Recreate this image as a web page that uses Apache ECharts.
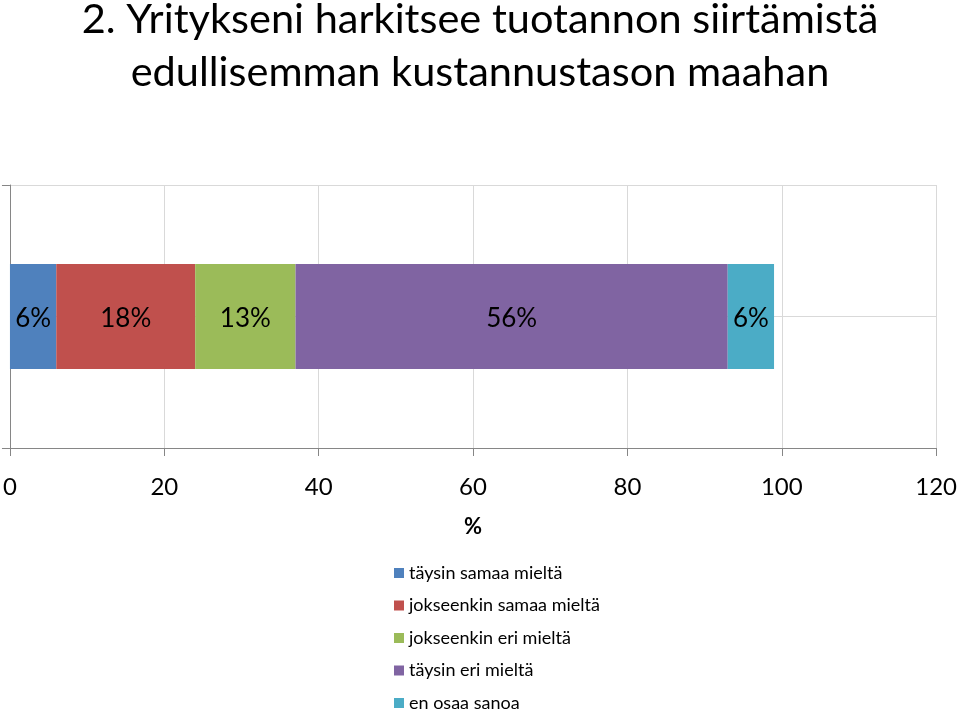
<!DOCTYPE html>
<html><head><meta charset="utf-8">
<script src="https://cdn.jsdelivr.net/npm/echarts@6/dist/echarts.min.js"></script>
<style>html,body{margin:0;padding:0;background:#fff}#c{width:960px;height:713px}</style>
</head><body><div id="c"></div>
<script>
const titleLines = ['2. Yritykseni harkitsee tuotannon siirtämistä', 'edullisemman kustannustason maahan'];
const categories = [''];
const seriesNames = ['täysin samaa mieltä', 'jokseenkin samaa mieltä', 'jokseenkin eri mieltä', 'täysin eri mieltä', 'en osaa sanoa'];
const seriesValues = [6, 18, 13, 56, 6];
const colors = ['#4f81bd', '#c0504d', '#9bbb59', '#8064a2', '#4bacc6'];
const xTicks = [0, 20, 40, 60, 80, 100, 120];

const FONT = 'Lato, "Open Sans", sans-serif';
const LEGEND_TOP = 563, LEGEND_STEP = 32.5;
const chart = echarts.init(document.getElementById('c'));
chart.setOption({
  animation: false,
  textStyle: { fontFamily: FONT },
  title: {
    text: titleLines.join('\n'),
    left: 'center', top: -12,
    textStyle: { fontFamily: FONT, fontSize: 41.5, fontWeight: 'normal', color: '#000', lineHeight: 53 }
  },
  legend: seriesNames.map((n, i) => ({
    orient: 'vertical', left: 394, top: LEGEND_TOP + i * LEGEND_STEP, padding: 0,
    itemWidth: 10, itemHeight: 10, icon: 'rect',
    textStyle: { fontFamily: FONT, fontSize: 18, color: '#000', lineHeight: 20 },
    data: [n]
  })),
  grid: { left: 8, right: 23, top: 185, bottom: 265, containLabel: false },
  xAxis: {
    type: 'value', min: xTicks[0], max: xTicks[xTicks.length - 1], interval: 20,
    name: '%', nameLocation: 'middle', nameGap: 68,
    nameTextStyle: { fontFamily: FONT, fontSize: 22, fontWeight: 'bold', color: '#000' },
    axisLine: { show: true, lineStyle: { color: '#868686' } },
    axisTick: { show: true, length: 8, lineStyle: { color: '#868686' } },
    axisLabel: { fontFamily: FONT, fontSize: 24, color: '#000', margin: 27 },
    splitLine: { show: true, lineStyle: { color: '#d9d9d9' } }
  },
  yAxis: [{
    type: 'category', data: categories,
    axisLine: { show: true, lineStyle: { color: '#868686' } },
    axisTick: { show: true, length: 8, inside: false, lineStyle: { color: '#868686' } },
    axisLabel: { show: false },
    splitLine: { show: false }
  }, {
    type: 'value', min: 0, max: 2, interval: 1, position: 'left',
    axisLine: { show: false }, axisTick: { show: false }, axisLabel: { show: false },
    splitLine: { show: true, lineStyle: { color: '#d9d9d9' } }
  }],
  series: seriesNames.map((n, i) => ({
    name: n, type: 'bar', stack: 'total', yAxisIndex: 0,
    barWidth: 105,
    itemStyle: { color: colors[i] },
    label: { show: true, position: 'inside', formatter: '{c}%', fontFamily: FONT, fontSize: 26, color: '#000', offset: [0, 2] },
    data: [seriesValues[i]]
  }))
});
</script></body></html>
